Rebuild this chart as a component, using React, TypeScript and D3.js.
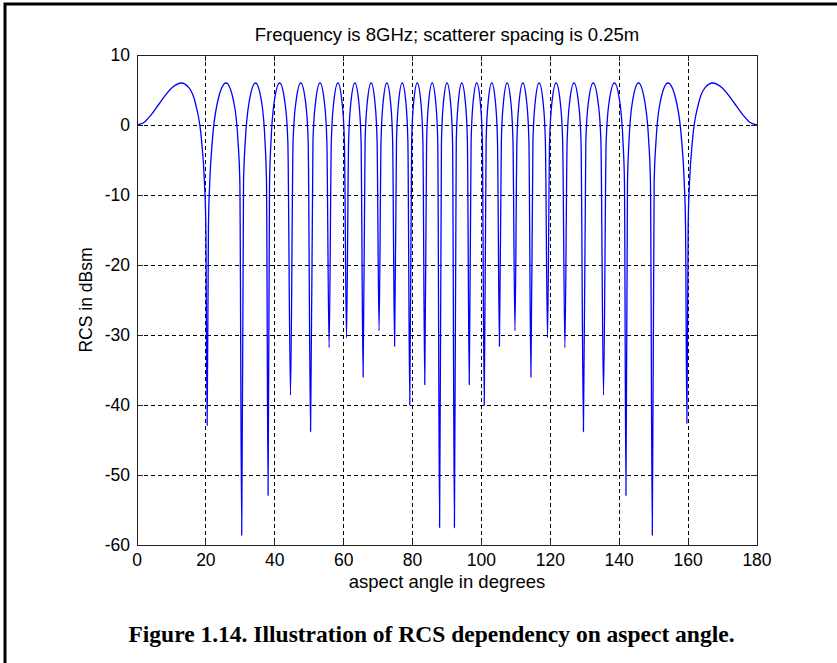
import React from 'react';
import * as d3 from 'd3';

const xTicks = [0, 20, 40, 60, 80, 100, 120, 140, 160, 180];
const yTicks = [10, 0, -10, -20, -30, -40, -50, -60];

// wide end lobes next to 0 and 180 degrees
const edgeDeg = [0, 2.0, 4.05, 10.14, 15.07, 164.93, 169.86, 175.95, 178.0, 180];
const edgeDb = [0, 0.36, 1.41, 5.33, 5.33, 5.33, 5.33, 1.41, 0.36, 0];

// lobe maxima
const peakDeg = [12.84, 25.84, 34.41, 41.41, 47.55, 53.13, 58.33, 63.26, 67.98, 72.54, 77.0, 81.37, 85.7, 90.0,
  94.3, 98.63, 103.0, 107.46, 112.02, 116.74, 121.67, 126.87, 132.45, 138.59, 145.59, 154.16, 167.16];
const PEAK_DB = 6.0;

// where the curve passes +3 dB
const halfDeg = [6.41, 17.01, 23.26, 28.21, 32.46, 36.26, 39.75, 43.01, 46.07, 49.01, 51.78, 54.46, 57.06, 59.58,
  62.05, 64.45, 66.81, 69.13, 71.41, 73.66, 75.89, 78.1, 80.28, 82.46, 84.62, 86.77, 88.93,
  91.07, 93.23, 95.38, 97.54, 99.72, 101.9, 104.11, 106.34, 108.59, 110.87, 113.19, 115.55, 117.95, 120.42,
  122.94, 125.54, 128.22, 130.99, 133.93, 136.99, 140.25, 143.74, 147.54, 151.79, 156.74, 162.99, 173.59];
const HALF_DB = 3.0;

// where the curve passes -2.3 dB on each side of a null
const shoulderDeg = [18.76, 21.86, 29.32, 31.44, 37.16, 38.91, 43.79, 45.32, 49.69, 51.09, 55.12, 56.42, 60.21,
  61.44, 65.05, 66.22, 69.7, 70.85, 74.22, 75.34, 78.64, 79.74, 83.0, 84.08, 87.31, 88.39,
  91.61, 92.69, 95.92, 97.0, 100.26, 101.36, 104.66, 105.78, 109.15, 110.3, 113.78, 114.95, 118.56, 119.79,
  123.58, 124.88, 128.91, 130.31, 134.68, 136.21, 141.09, 142.84, 148.56, 150.68, 158.14, 161.24];
const SHOULDER_DB = -2.3;

// extra points on the wide outer nulls
const slopeDeg = [19.58, 21.12, 29.86, 30.93, 37.6, 38.48, 141.52, 142.4, 149.07, 150.14, 158.88, 160.42];
const SLOPE_DB = -8.2;
const kneeDeg = [19.98, 20.75, 159.25, 160.02];
const KNEE_DB = -14.2;

// nulls and how deep they go in the plot
const nullDeg = [20.36, 30.4, 38.05, 44.56, 50.39, 55.77, 60.82, 65.64, 70.27, 74.78, 79.19, 83.54, 87.85,
  92.15, 96.46, 100.81, 105.22, 109.73, 114.36, 119.18, 124.23, 129.61, 135.44, 141.95, 149.6, 159.64];
const nullDb = [-42.9, -58.6, -52.9, -38.6, -43.8, -31.8, -30.4, -36.0, -29.4, -31.6, -40.0, -37.1, -57.5,
  -57.5, -37.1, -40.0, -31.6, -29.4, -36.0, -30.4, -31.8, -43.8, -38.6, -52.9, -58.6, -42.6];

const W = 837;
const H = 663;
const left = 137, right = 757, top = 55, bottom = 545;
const sans = '"Liberation Sans", Arial, Helvetica, sans-serif';

export default function App() {
  const x = d3.scaleLinear().domain([0, 180]).range([left, right]);
  const y = d3.scaleLinear().domain([-60, 10]).range([bottom, top]);

  const pts: [number, number][] = [
    ...edgeDeg.map((d, i) => [d, edgeDb[i]] as [number, number]),
    ...peakDeg.map(d => [d, PEAK_DB] as [number, number]),
    ...halfDeg.map(d => [d, HALF_DB] as [number, number]),
    ...shoulderDeg.map(d => [d, SHOULDER_DB] as [number, number]),
    ...slopeDeg.map(d => [d, SLOPE_DB] as [number, number]),
    ...kneeDeg.map(d => [d, KNEE_DB] as [number, number]),
    ...nullDeg.map((d, i) => [d, nullDb[i]] as [number, number]),
  ].sort((a, b) => a[0] - b[0]);

  const line = d3.line<[number, number]>()
    .x(d => x(d[0]))
    .y(d => y(d[1]))
    .curve(d3.curveMonotoneX);

  const tick = 6;

  return (
    <svg width={W} height={H} style={{ position: 'absolute', left: 0, top: 0, background: '#fff' }}>
      <defs>
        <clipPath id="plot">
          <rect x={left} y={top} width={right - left} height={bottom - top} />
        </clipPath>
      </defs>

      {/* page frame */}
      <path d={`M5,${H} V4 H${W}`} fill="none" stroke="#000" strokeWidth={3} />

      {/* grid */}
      <g stroke="#000" strokeWidth={1} strokeDasharray="4 3" shapeRendering="crispEdges">
        {xTicks.slice(1, -1).map(t => (
          <line key={'gx' + t} x1={x(t)} x2={x(t)} y1={top} y2={bottom} />
        ))}
        {yTicks.slice(1, -1).map(t => (
          <line key={'gy' + t} x1={left} x2={right} y1={y(t)} y2={y(t)} />
        ))}
      </g>

      <path d={line(pts) ?? ''} fill="none" stroke="#0000ff" strokeWidth={1.3} clipPath="url(#plot)" />

      {/* box and ticks */}
      <g stroke="#222" strokeWidth={1} shapeRendering="crispEdges">
        <rect x={left} y={top} width={right - left} height={bottom - top} fill="none" />
        {xTicks.map(t => (
          <g key={'tx' + t}>
            <line x1={x(t)} x2={x(t)} y1={bottom} y2={bottom - tick} />
            <line x1={x(t)} x2={x(t)} y1={top} y2={top + tick} />
          </g>
        ))}
        {yTicks.map(t => (
          <g key={'ty' + t}>
            <line x1={left} x2={left + tick} y1={y(t)} y2={y(t)} />
            <line x1={right} x2={right - tick} y1={y(t)} y2={y(t)} />
          </g>
        ))}
      </g>

      <g fontFamily={sans} fontSize={17.5} fill="#000">
        {xTicks.map(t => (
          <text key={'lx' + t} x={x(t)} y={bottom + 21} textAnchor="middle">{t}</text>
        ))}
        {yTicks.map(t => (
          <text key={'ly' + t} x={left - 7} y={y(t) + 6} textAnchor="end">{t}</text>
        ))}
      </g>

      <text x={(left + right) / 2} y={41} textAnchor="middle" fontFamily={sans} fontSize={18.5}>
        Frequency is 8GHz; scatterer spacing is 0.25m
      </text>
      <text x={(left + right) / 2} y={588} textAnchor="middle" fontFamily={sans} fontSize={18.5}>
        aspect angle in degrees
      </text>
      <text transform={`translate(91.5,${(top + bottom) / 2}) rotate(-90)`} textAnchor="middle" fontFamily={sans} fontSize={17.5}>
        RCS in dBsm
      </text>

      <text x={431.5} y={642} textAnchor="middle" fontFamily='"Liberation Serif", "Times New Roman", serif'
        fontWeight="bold" fontSize={23.5}>
        Figure 1.14. Illustration of RCS dependency on aspect angle.
      </text>
    </svg>
  );
}
